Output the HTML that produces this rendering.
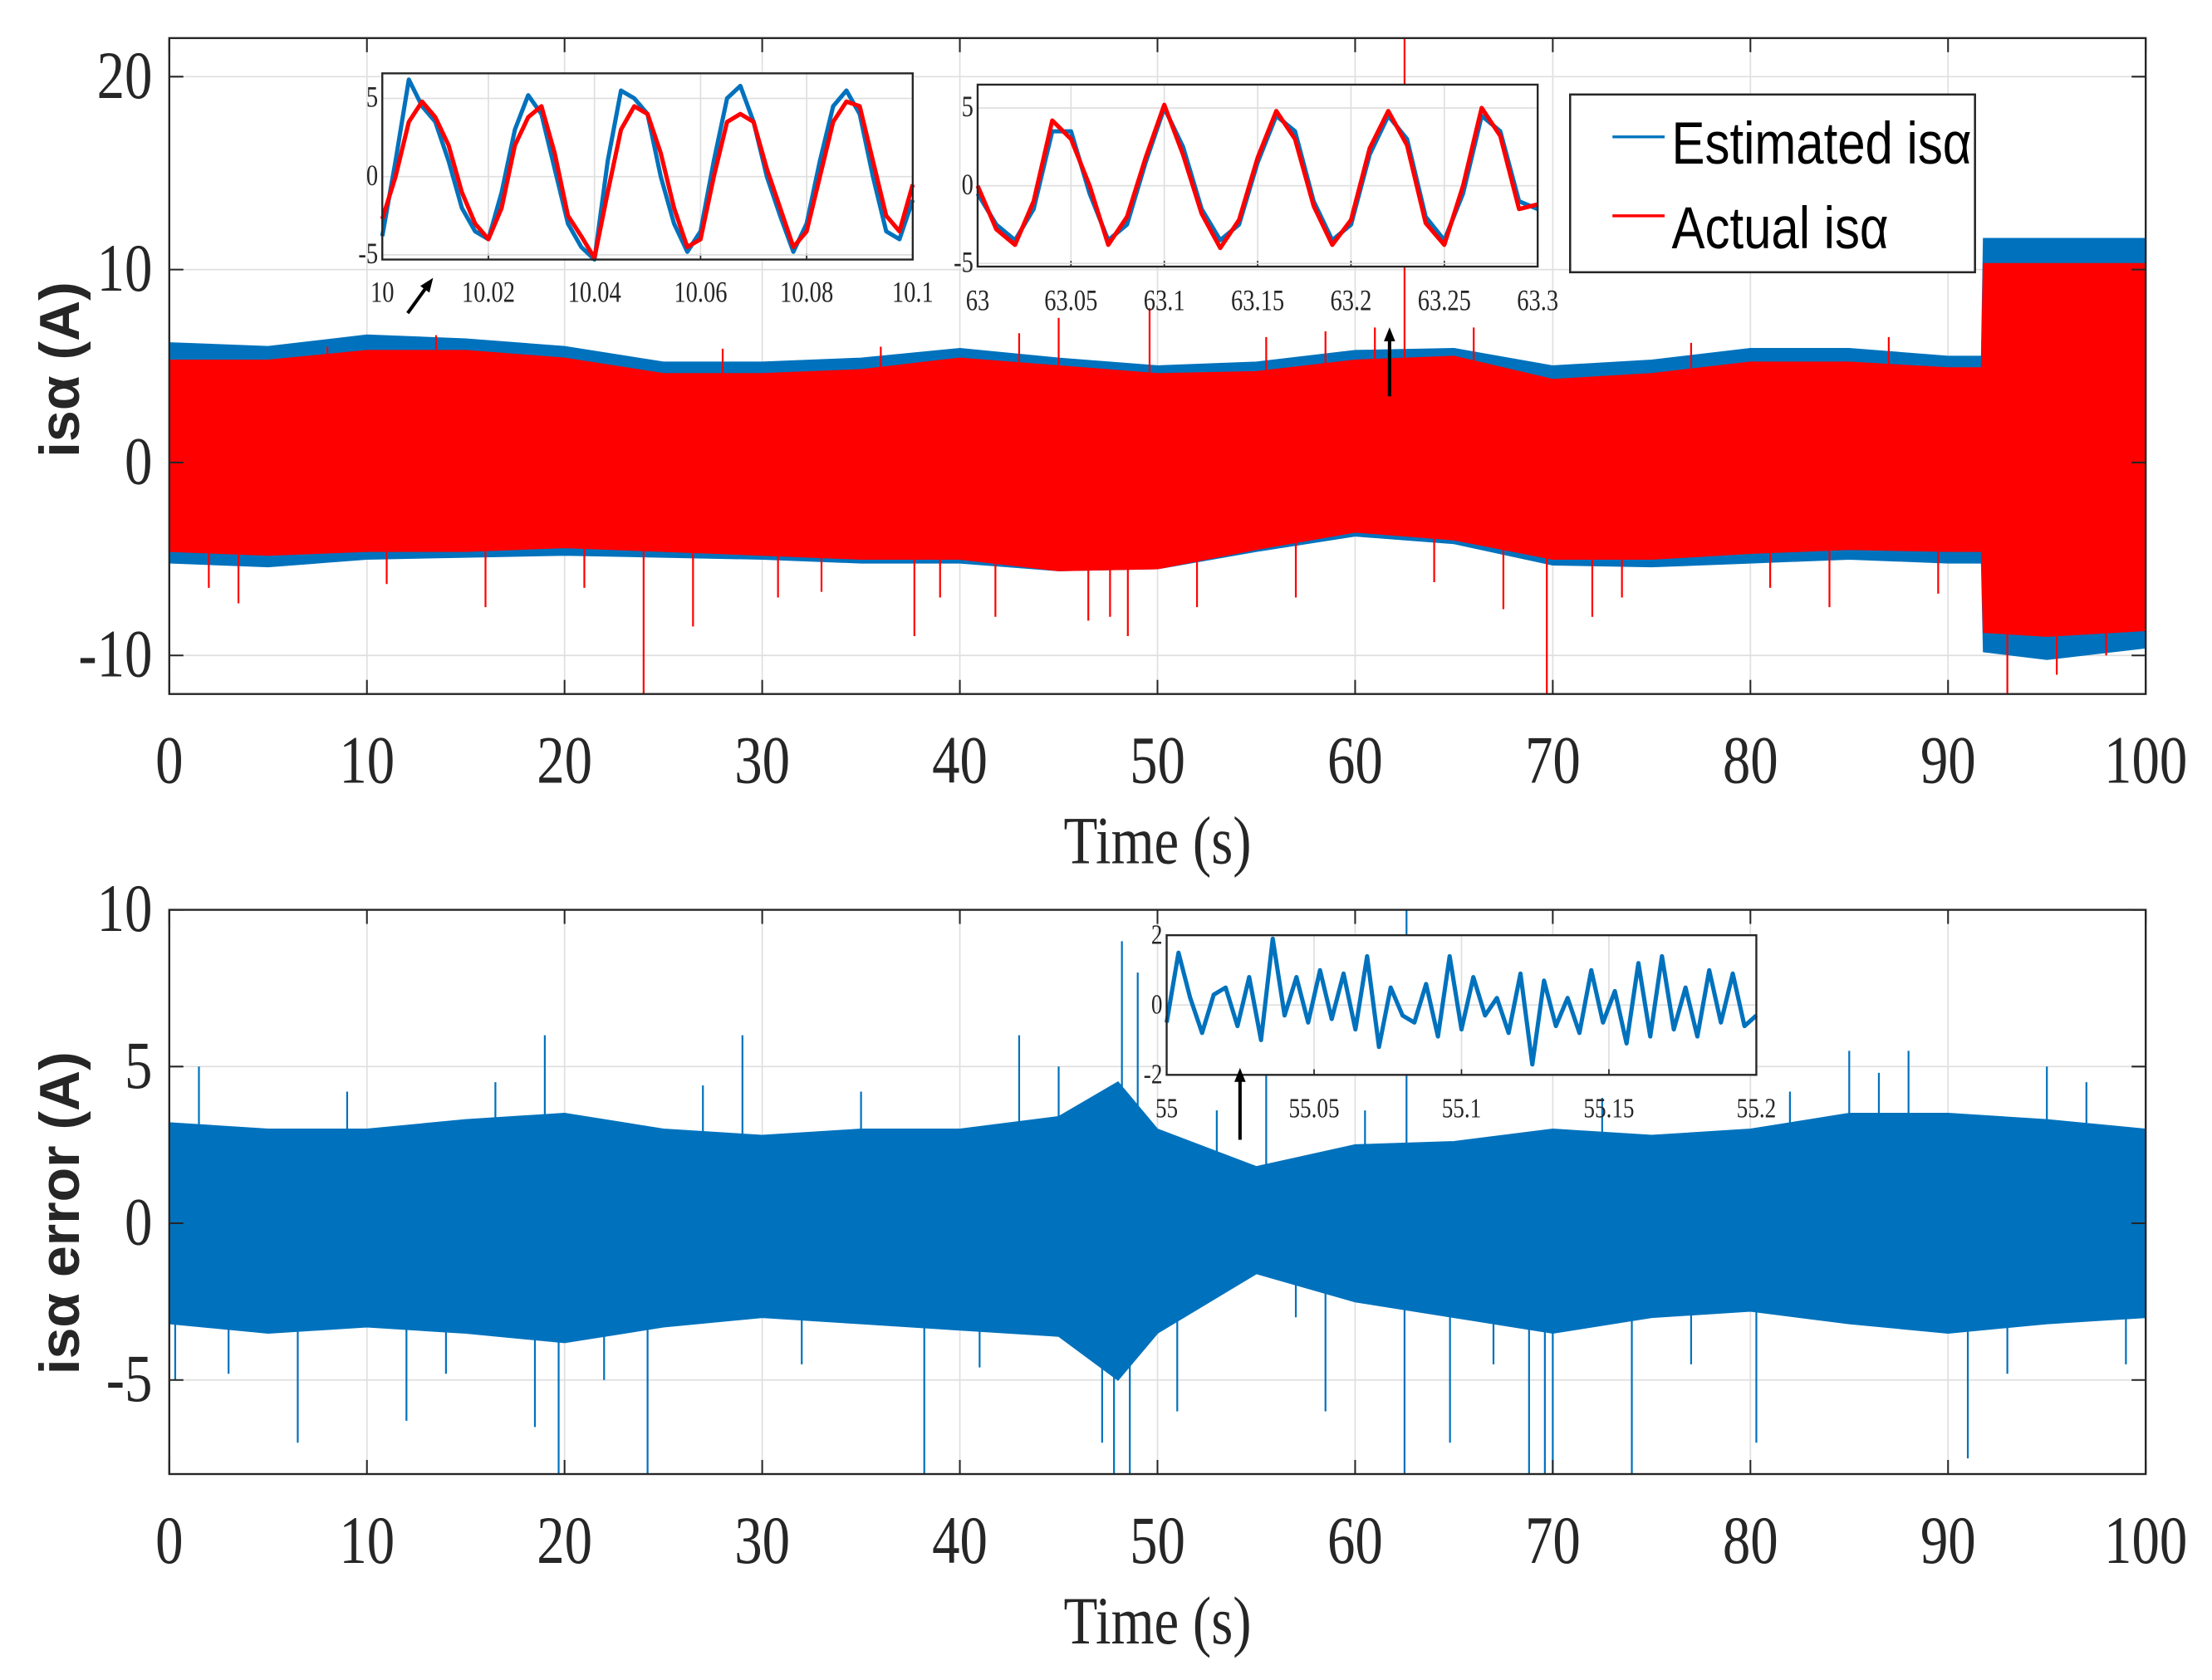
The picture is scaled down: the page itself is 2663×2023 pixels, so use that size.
<!DOCTYPE html>
<html><head><meta charset="utf-8"><style>
html,body{margin:0;padding:0;background:#fff;}
svg{display:block;}
</style></head><body>
<svg id="fig" xmlns="http://www.w3.org/2000/svg" width="2663" height="2023" viewBox="0 0 1568 1191" preserveAspectRatio="none"></svg>
<script>
// ===== Top chart data =====
const envT = [0,5,10,15,20,25,30,35,40,45,50,55,60,65,70,75,80,85,90,91.7,91.8,95,100];
const redUpper = [5.3,5.3,5.8,5.8,5.4,4.6,4.6,4.8,5.4,5.0,4.6,4.7,5.3,5.5,4.3,4.6,5.2,5.2,4.9,4.9,10.3,10.3,10.3];
const redLower = [-4.6,-4.8,-4.6,-4.6,-4.4,-4.6,-4.8,-5.0,-5.0,-5.6,-5.5,-4.5,-3.6,-4.0,-5.0,-5.0,-4.7,-4.5,-4.6,-4.6,-8.8,-9.0,-8.7];
const blueUpper = [6.2,6.0,6.6,6.4,6.0,5.2,5.2,5.4,5.9,5.4,5.0,5.2,5.8,5.9,5.0,5.3,5.9,5.9,5.5,5.5,11.6,11.6,11.6];
const blueLower = [-5.2,-5.4,-5.0,-4.9,-4.8,-4.9,-5.0,-5.2,-5.2,-5.6,-5.5,-4.6,-3.8,-4.2,-5.3,-5.4,-5.2,-5.0,-5.2,-5.2,-9.8,-10.2,-9.6];
const redSpikeT = [62.5,48.5,24.0,69.7,47.6,37.7,16.0,26.5,41.8,2.0,30.8,45.0,55.5,66.0,72.0,84.0,93.0,95.5,98.0,8.0,49.6,57.0,3.5,11,13.5,21,28,33,36,39,43,46.5,52,58.5,61,64,67.5,73.5,77,81,87,89.5];
const redSpikeV = [22,-9,-12,-12,-8,-9,-7.5,-8.5,-8,-6.5,-7,7.5,6.5,7,-8,-7.5,-12,-11,-10,6,8,-7,-7.3,-6.3,6.6,-6.5,5.9,-6.7,6,-7,6.7,-8.2,-7.5,6.8,7,-6.2,-7.6,-7,6.2,-6.5,6.5,-6.8];
const xTicks = [0,10,20,30,40,50,60,70,80,90,100];
const topYTicks = [-10,0,10,20];
// inset 1
const in1T = [10,10.0025,10.005,10.0075,10.01,10.0125,10.015,10.0175,10.02,10.0225,10.025,10.0275,10.03,10.0325,10.035,10.0375,10.04,10.0425,10.045,10.0475,10.05,10.0525,10.055,10.0575,10.06,10.0625,10.065,10.0675,10.07,10.0725,10.075,10.0775,10.08,10.0825,10.085,10.0875,10.09,10.0925,10.095,10.0975,10.1];
const in1Blue = [-3.8,1,6.2,4.5,3.5,1,-2,-3.5,-4,-1,3,5.2,4,0.5,-3,-4.5,-5.3,1,5.5,5,4,0,-3,-4.8,-3.5,1,5,5.8,3.5,0,-2.5,-4.8,-3,1,4.5,5.5,4,0,-3.5,-4,-1.5];
const in1Red = [-2.7,0,3.5,4.8,3.8,2,-1,-3,-4,-2,2,3.8,4.5,1.5,-2.5,-3.8,-5.2,-1,3,4.5,4,1.5,-2,-4.5,-4,0,3.5,4,3.5,0.5,-2,-4.5,-3.5,0,3.5,4.8,4.5,1,-2.5,-3.5,-0.5];
const in1XTicks = [10,10.02,10.04,10.06,10.08,10.1];
const in1XLabels = ["10","10.02","10.04","10.06","10.08","10.1"];
// inset 2
const in2T = [63,63.01,63.02,63.03,63.04,63.05,63.06,63.07,63.08,63.09,63.1,63.11,63.12,63.13,63.14,63.15,63.16,63.17,63.18,63.19,63.2,63.21,63.22,63.23,63.24,63.25,63.26,63.27,63.28,63.29,63.3];
const in2Blue = [-0.5,-2.5,-3.5,-1.5,3.5,3.5,-0.5,-3.5,-2.5,1.5,5,2.5,-1.5,-3.5,-2.5,1.5,4.5,3.5,-1,-3.5,-2.5,2,4.5,3,-2,-3.5,-0.5,4.5,3.5,-1,-1.5];
const in2Red = [0,-2.8,-3.8,-1,4.2,3,0,-3.8,-2,1.8,5.2,2,-1.8,-4,-2.2,1.8,4.8,3,-1.3,-3.8,-2.2,2.4,4.8,2.6,-2.4,-3.8,0,5,3.2,-1.5,-1.2];
const in2XTicks = [63,63.05,63.1,63.15,63.2,63.25,63.3];
const in2XLabels = ["63","63.05","63.1","63.15","63.2","63.25","63.3"];
// ===== Bottom chart data =====
const errT = [0,5,10,15,20,25,30,35,40,45,48,50,55,60,65,70,75,80,85,90,95,100];
const errUp = [3.2,3.0,3.0,3.3,3.5,3.0,2.8,3.0,3.0,3.4,4.5,3.0,1.8,2.5,2.6,3.0,2.8,3.0,3.5,3.5,3.3,3.0];
const errLo = [-3.2,-3.5,-3.3,-3.5,-3.8,-3.3,-3.0,-3.2,-3.4,-3.6,-5.0,-3.5,-1.6,-2.5,-3.0,-3.5,-3.0,-2.8,-3.2,-3.5,-3.2,-3.0];
const errSpikeT = [1.5,6.5,12,19.7,19.0,24.2,29,38.2,43,47.8,48.2,48.6,49,51,55.5,58.5,62.5,62.6,64.8,68.8,69.6,70,74,80.3,85,88,91,95,18.5,45,47.2,0.3,3,9,14,16.5,22,27,32,35,41,53,57,60.5,67,72.5,77,82,86.5,93,97,99];
const errSpikeV = [5,-7,-6.3,-8,6,-8,6,-8,6,-8,9,-8,8,-6,5.5,-6,-8,10,-7,-8,-8,-8,-8,-7,5.5,5.5,-7.5,5,-6.5,5,-7,-5,-4.8,4.2,-4.8,4.5,-5,4.4,-4.5,4.2,-4.6,3.6,-3,3.6,-4.5,4,-4.5,4.2,4.8,-4.8,4.5,-4.5];
const botYTicks = [-5,0,5,10];
const in3T = [55,55.004,55.008,55.012,55.016,55.02,55.024,55.028,55.032,55.036,55.04,55.044,55.048,55.052,55.056,55.06,55.064,55.068,55.072,55.076,55.08,55.084,55.088,55.092,55.096,55.1,55.104,55.108,55.112,55.116,55.12,55.124,55.128,55.132,55.136,55.14,55.144,55.148,55.152,55.156,55.16,55.164,55.168,55.172,55.176,55.18,55.184,55.188,55.192,55.196,55.2];
const in3V = [-0.5,1.5,0.2,-0.8,0.3,0.5,-0.6,0.8,-1,1.9,-0.3,0.8,-0.5,1,-0.4,0.9,-0.7,1.4,-1.2,0.5,-0.3,-0.5,0.6,-0.9,1.4,-0.7,0.8,-0.3,0.2,-0.8,0.9,-1.7,0.7,-0.6,0.2,-0.8,1,-0.5,0.4,-1.1,1.2,-0.9,1.4,-0.7,0.5,-0.9,1,-0.5,0.9,-0.6,-0.3];
const in3XTicks = [55,55.05,55.1,55.15,55.2];
const in3XLabels = ["55","55.05","55.1","55.15","55.2"];

const NS = "http://www.w3.org/2000/svg";
const svg = document.getElementById('fig');
const BLUE = "#0072bd", RED = "#ff0000", AX = "#262626", GRID = "#dfdfdf";
const SERIF = 'Liberation Serif, serif';
function mk(tag, attrs, parent){
  const e = document.createElementNS(NS, tag);
  for (const k in attrs) e.setAttribute(k, attrs[k]);
  (parent || svg).appendChild(e);
  return e;
}
function ctext(x, y, str, size, anchor, parent, sxScale){
  const t = mk('text',{x:0,y:0,'text-anchor':anchor,'font-family':SERIF,'font-size':size,fill:AX,transform:`translate(${x},${y}) scale(${sxScale||0.82},1)`},parent);
  t.textContent = str;
  return t;
}
function lin(d0,d1,r0,r1){ return v => r0 + (v-d0)/(d1-d0)*(r1-r0); }

function mainAxes(name, L, R, T, B, yMin, yMax, yTicks, xlabelY, ylabel, ylabelY){
  const g = mk('g', {});
  
  
  const sx = lin(0,100,L,R), sy = lin(yMin,yMax,B,T);
  xTicks.forEach(t => {
    const gl = mk('line',{x1:sx(t),x2:sx(t),y1:T,y2:B,stroke:GRID,'stroke-width':1},g);
    
    
  });
  yTicks.forEach(t => {
    const gl = mk('line',{x1:L,x2:R,y1:sy(t),y2:sy(t),stroke:GRID,'stroke-width':1},g);
    
    
  });
  return {g, sx, sy, L, R, T, B, yTicks, xlabelY, ylabel, ylabelY};
}
function finishAxes(a, name){
  const {g,sx,sy,L,R,T,B} = a;
  const fr = mk('rect',{x:L,y:T,width:R-L,height:B-T,fill:'none',stroke:AX,'stroke-width':1.4},g);
  
  
  xTicks.forEach(t => {
    mk('line',{x1:sx(t),x2:sx(t),y1:B,y2:B-10,stroke:AX,'stroke-width':1.2},g);
    mk('line',{x1:sx(t),x2:sx(t),y1:T,y2:T+10,stroke:AX,'stroke-width':1.2},g);
    const tx = ctext(sx(t), B+63, String(t), 48, 'middle', g);
    
    
  });
  a.yTicks.forEach(t => {
    mk('line',{x1:L,x2:L+10,y1:sy(t),y2:sy(t),stroke:AX,'stroke-width':1.2},g);
    mk('line',{x1:R,x2:R-10,y1:sy(t),y2:sy(t),stroke:AX,'stroke-width':1.2},g);
    const tx = ctext(L-12, sy(t)+15, String(t), 48, 'end', g);
    
    
  });
  const xl = ctext((L+R)/2, a.xlabelY, 'Time (s)', 48, 'middle', g);
  
  
  const yl = mk('text',{x:0,y:0,'text-anchor':'middle','font-family':'Liberation Sans, sans-serif','font-weight':'bold','font-size':40,fill:AX,transform:`translate(56,${a.ylabelY}) rotate(-90)`},g);
  yl.textContent = a.ylabel;
  
  
}
function band(a, T_, up, lo, color, name){
  let d = '';
  T_.forEach((t,i)=>{ d += (i?'L':'M') + a.sx(t).toFixed(1) + ',' + a.sy(up[i]).toFixed(1); });
  for (let i=T_.length-1;i>=0;i--) d += 'L' + a.sx(T_[i]).toFixed(1) + ',' + a.sy(lo[i]).toFixed(1);
  const p = mk('path',{d:d+'Z',fill:color,stroke:color,'stroke-width':1},a.g);
  
  
}
function spikes(a, ts, vs, color, name){
  ts.forEach((t,i)=>{
    const y = Math.max(a.T, Math.min(a.B, a.sy(vs[i])));
    const l = mk('line',{x1:a.sx(t),x2:a.sx(t),y1:a.sy(0),y2:y,stroke:color,'stroke-width':1.3},a.g);
    
    
  });
}
function inset(name, L, R, T, B, xMin, xMax, yMin, yMax, yTicks, xTicksA, xLabels, series, fs, labelDy){
  const g = mk('g',{});
  
  
  mk('rect',{x:L,y:T,width:R-L,height:B-T,fill:'#fff'},g);
  const sx = lin(xMin,xMax,L,R), sy = lin(yMin,yMax,B,T);
  xTicksA.forEach((t,i)=>{
    mk('line',{x1:sx(t),x2:sx(t),y1:T,y2:B,stroke:GRID,'stroke-width':1},g);
    mk('line',{x1:sx(t),x2:sx(t),y1:B,y2:B-4,stroke:AX,'stroke-width':1},g);
    const tx = ctext(sx(t), B+labelDy, xLabels[i], fs, 'middle', g, 0.8);
    
    
  });
  yTicks.forEach(t=>{
    mk('line',{x1:L,x2:R,y1:sy(t),y2:sy(t),stroke:GRID,'stroke-width':1},g);
    const tx = ctext(L-3, sy(t)+6, String(t), fs, 'end', g, 0.8);
    
    
  });
  series.forEach(s=>{
    const pts = s.t.map((t,i)=> sx(t).toFixed(1)+','+sy(s.v[i]).toFixed(1)).join(' ');
    const pl = mk('polyline',{points:pts,fill:'none',stroke:s.c,'stroke-width':3,'stroke-linejoin':'round'},g);
    
    
  });
  const fr = mk('rect',{x:L,y:T,width:R-L,height:B-T,fill:'none',stroke:AX,'stroke-width':1.4},g);
  
  
}
function arrow(x1,y1,x2,y2,name){
  const ang = Math.atan2(y2-y1,x2-x1), h=10, w=4;
  const l = mk('line',{x1,y1,x2:x2-Math.cos(ang)*h*0.8,y2:y2-Math.sin(ang)*h*0.8,stroke:'#000','stroke-width':2.4});
  
  
  const bx = x2-Math.cos(ang)*h, by = y2-Math.sin(ang)*h;
  const p = mk('polygon',{points:`${x2},${y2} ${bx-Math.sin(ang)*w},${by+Math.cos(ang)*w} ${bx+Math.sin(ang)*w},${by-Math.cos(ang)*w}`,fill:'#000'});
  
  
}

// ---- Top chart ----
const A = mainAxes('top-chart',120,1521,27,492,-12,22,topYTicks,612,'isα (A)',262);
band(A, envT, blueUpper, blueLower, BLUE, 'estimated-isa-series');
band(A, envT, redUpper, redLower, RED, 'actual-isa-series');
spikes(A, redSpikeT, redSpikeV, RED, 'actual-isa-spike');
finishAxes(A,'top-chart');
inset('inset-10s',271,647,52,184,10,10.1,-5.3,6.6,[-5,0,5],in1XTicks,in1XLabels,
  [{t:in1T,v:in1Blue,c:BLUE,n:'inset1-estimated-line'},{t:in1T,v:in1Red,c:RED,n:'inset1-actual-line'}],21,30);
inset('inset-63s',693,1090,60,189,63,63.3,-5.2,6.5,[-5,0,5],in2XTicks,in2XLabels,
  [{t:in2T,v:in2Blue,c:BLUE,n:'inset2-estimated-line'},{t:in2T,v:in2Red,c:RED,n:'inset2-actual-line'}],21,31);
arrow(289,222,307,197,'inset1-arrow');
arrow(985,281,985,232,'inset2-arrow');

// legend
const lg = mk('g',{});


mk('rect',{x:1113,y:67,width:287,height:126,fill:'#fff',stroke:AX,'stroke-width':1.5},lg);
const le1 = mk('line',{x1:1143,x2:1180,y1:97,y2:97,stroke:BLUE,'stroke-width':2},lg);


const lt1 = mk('text',{x:0,y:0,'font-family':'Liberation Sans, sans-serif','font-size':42,fill:'#000',transform:'translate(1185,116) scale(0.84,1)'},lg);
lt1.textContent = 'Estimated isα';


const le2 = mk('line',{x1:1143,x2:1180,y1:153,y2:153,stroke:RED,'stroke-width':2},lg);


const lt2 = mk('text',{x:0,y:0,'font-family':'Liberation Sans, sans-serif','font-size':42,fill:'#000',transform:'translate(1185,176) scale(0.84,1)'},lg);
lt2.textContent = 'Actual isα';



// ---- Bottom chart ----
const Bx = mainAxes('bottom-chart',120,1521,645,1045,-8,10,botYTicks,1165,'isα error (A)',860);
band(Bx, errT, errUp, errLo, BLUE, 'isa-error-series');
spikes(Bx, errSpikeT, errSpikeV, BLUE, 'isa-error-spike');
finishAxes(Bx,'bottom-chart');
inset('inset-55s',827,1245,663,762,55,55.2,-2,2,[-2,0,2],in3XTicks,in3XLabels,
  [{t:in3T,v:in3V,c:BLUE,n:'inset3-error-line'}],20,30);
arrow(879,808,879,757,'inset3-arrow');
</script>
</body></html>
